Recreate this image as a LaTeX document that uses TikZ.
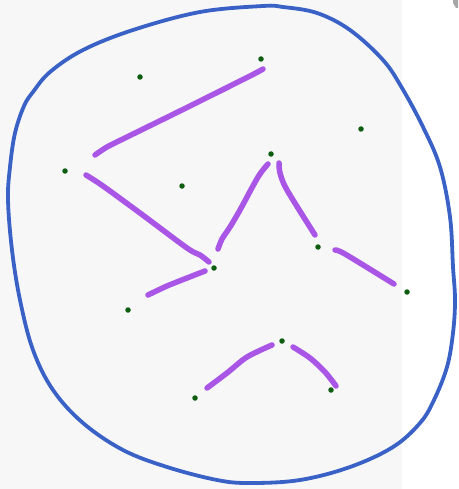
\documentclass[tikz,border=0pt]{standalone}
\begin{document}
\begin{tikzpicture}[x=1pt,y=-1pt,
  dot/.style={circle,fill=dotgreen,inner sep=0pt,minimum size=5.5pt},
  blob/.style={draw=blobblue,line width=3.8pt,line join=round},
  stroke/.style={draw=strokepurple,line width=5.5pt,line cap=round,line join=round}]
\definecolor{dotgreen}{HTML}{0E5E12}
\definecolor{blobblue}{HTML}{3A62C6}
\definecolor{strokepurple}{HTML}{A955E6}
\definecolor{bggray}{HTML}{F7F7F7}
\useasboundingbox (0,0) rectangle (458,489);
\fill[bggray] (0,0) rectangle (402,489);
\fill[white] (402,0) rectangle (458,489);
\fill[gray!70] (458,0) -- (453,0) -- (453,3) -- (456,8) -- (458,8) -- cycle;
% outline
\draw[blob] plot[smooth cycle,tension=0.6] coordinates {
 (263,6) (200,12) (133,30) (83,50) (50,72) (33,92) (24,106) (15,133) (10,167) (8,200)
 (12,250) (20,300) (33,350) (53,390) (83,423) (123,450) (167,467) (217,480) (250,483)
 (300,480) (350,467) (393,447) (420,423) (434,400) (447,367) (453,333) (455,300)
 (453,267) (450,217) (440,167) (423,127) (402,88) (383,60) (350,30) (317,13) (283,7)};
% dots
\node[dot] (p1) at (140,77) {};
\node[dot] (p2) at (261,59) {};
\node[dot] (p3) at (361,129) {};
\node[dot] (p4) at (271,154) {};
\node[dot] (p5) at (65,171) {};
\node[dot] (p6) at (182,186) {};
\node[dot] (p7) at (318,247) {};
\node[dot] (p8) at (214,268) {};
\node[dot] (p9) at (407,292) {};
\node[dot] (p10) at (128,310) {};
\node[dot] (p11) at (282,341) {};
\node[dot] (p12) at (195,398) {};
\node[dot] (p13) at (331,390) {};
% strokes
\draw[stroke] plot[smooth] coordinates {(95,155) (107,147) (127,137) (190,106) (250,76) (263,69)};
\draw[stroke] plot[smooth] coordinates {(86,175) (103,186) (140,213) (187,248) (200,255) (209,262)};
\draw[stroke] plot[smooth] coordinates {(148,295) (167,286) (187,278) (205,271)};
\draw[stroke] plot[smooth] coordinates {(218,249) (222,239) (230,227) (240,210) (258,177) (268,164)};
\draw[stroke] plot[smooth] coordinates {(279,163) (280,173) (287,190) (315,235)};
\draw[stroke] plot[smooth] coordinates {(335,250) (345,254) (394,284)};
\draw[stroke] plot[smooth] coordinates {(207,388) (227,373) (247,357) (272,345)};
\draw[stroke] plot[smooth] coordinates {(293,347) (310,358) (325,372) (336,386)};
\end{tikzpicture}
\end{document}
